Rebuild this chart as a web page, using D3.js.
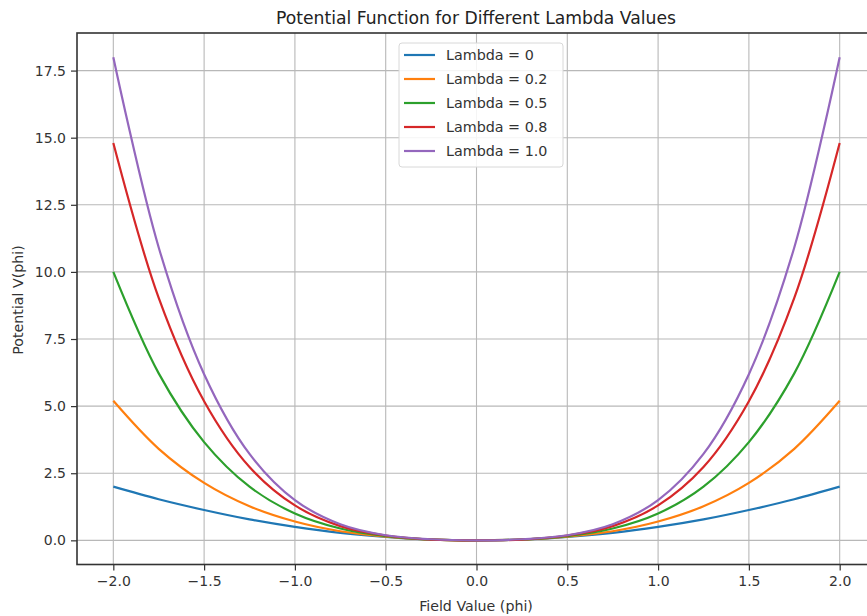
<!DOCTYPE html>
<html><head><meta charset="utf-8">
<script src="https://cdn.jsdelivr.net/npm/d3@7"></script>
<style>body{margin:0;background:#fff}svg{display:block;font-family:"DejaVu Sans",sans-serif}</style>
</head><body><svg id="c" width="867" height="616"></svg>
<script>
const phi = [-2,-1.75,-1.5,-1.25,-1,-0.75,-0.5,-0.25,0,0.25,0.5,0.75,1,1.25,1.5,1.75,2];
const lambda0  = [2,1.53,1.13,0.78,0.5,0.28,0.13,0.03,0,0.03,0.13,0.28,0.5,0.78,1.13,1.53,2];
const lambda02 = [5.2,3.41,2.14,1.27,0.7,0.34,0.14,0.03,0,0.03,0.14,0.34,0.7,1.27,2.14,3.41,5.2];
const lambda05 = [10,6.22,3.66,2.0,1.0,0.44,0.16,0.03,0,0.03,0.16,0.44,1.0,2.0,3.66,6.22,10];
const lambda08 = [14.8,9.03,5.18,2.73,1.3,0.53,0.18,0.03,0,0.03,0.18,0.53,1.3,2.73,5.18,9.03,14.8];
const lambda10 = [18,10.91,6.19,3.22,1.5,0.6,0.19,0.04,0,0.04,0.19,0.6,1.5,3.22,6.19,10.91,18];
const seriesNames = ["Lambda = 0","Lambda = 0.2","Lambda = 0.5","Lambda = 0.8","Lambda = 1.0"];
const seriesValues = [lambda0,lambda02,lambda05,lambda08,lambda10];
const colors = ["#1f77b4","#ff7f0e","#2ca02c","#d62728","#9467bd"];
const xTicks = [-2,-1.5,-1,-0.5,0,0.5,1,1.5,2];
const yTicks = [0,2.5,5,7.5,10,12.5,15,17.5];

const svg = d3.select("#c");
const L=77, R=876, T=33, B=564.5;
const x = d3.scaleLinear().domain([-2.2,2.2]).range([L,R]);
const y = d3.scaleLinear().domain([-0.9,18.9]).range([B,T]);

// grid
svg.append("g").selectAll("line").data(xTicks).join("line")
  .attr("x1",d=>x(d)).attr("x2",d=>x(d)).attr("y1",T).attr("y2",B)
  .attr("stroke","#b8b8b8").attr("stroke-width",1.1);
svg.append("g").selectAll("line").data(yTicks).join("line")
  .attr("y1",d=>y(d)).attr("y2",d=>y(d)).attr("x1",L).attr("x2",R)
  .attr("stroke","#b8b8b8").attr("stroke-width",1.1);

// lines
const line = d3.line().x((d,i)=>x(phi[i])).y(d=>y(d)).curve(d3.curveCatmullRom.alpha(0.5));
svg.append("g").selectAll("path").data(seriesValues).join("path")
  .attr("d",d=>line(d)).attr("fill","none")
  .attr("stroke",(d,i)=>colors[i]).attr("stroke-width",2.2);

// axes
const xa = svg.append("g").attr("transform",`translate(0,${B})`)
  .call(d3.axisBottom(x).tickValues(xTicks).tickFormat(d=>d3.format(".1f")(d).replace("-","\u2212")).tickSize(6).tickPadding(6));
const ya = svg.append("g").attr("transform",`translate(${L},0)`)
  .call(d3.axisLeft(y).tickValues(yTicks).tickFormat(d3.format(".1f")).tickSize(6).tickPadding(5));
[xa,ya].forEach(a=>{
  a.select(".domain").remove();
  a.selectAll("line").attr("stroke","#333").attr("stroke-width",1.2);
  a.selectAll("text").attr("fill","#333").style("font-size","14px").style("font-family","DejaVu Sans");
});
// spines
svg.append("rect").attr("x",L).attr("y",T).attr("width",R-L).attr("height",B-T)
  .attr("fill","none").attr("stroke","#333").attr("stroke-width",1.6);

// legend
const lg = svg.append("g");
lg.append("rect").attr("x",399).attr("y",43).attr("width",164).attr("height",124).attr("rx",3)
  .attr("fill","#fff").attr("fill-opacity",0.85).attr("stroke","#d8d8d8");
seriesNames.forEach((n,i)=>{
  const yy = 55 + i*24;
  lg.append("line").attr("x1",404).attr("x2",435).attr("y1",yy).attr("y2",yy)
    .attr("stroke",colors[i]).attr("stroke-width",2.2);
  lg.append("text").attr("x",446).attr("y",yy+5).text(n)
    .style("font-size","14.3px").attr("fill","#333");
});

// titles
svg.append("text").attr("x",476).attr("y",24).attr("text-anchor","middle")
  .style("font-size","17.2px").attr("fill","#222").text("Potential Function for Different Lambda Values");
svg.append("text").attr("x",476).attr("y",611).attr("text-anchor","middle")
  .style("font-size","14.2px").attr("fill","#333").text("Field Value (phi)");
svg.append("text").attr("transform","translate(23,300) rotate(-90)").attr("text-anchor","middle")
  .style("font-size","14.2px").attr("fill","#333").text("Potential V(phi)");
</script></body></html>
